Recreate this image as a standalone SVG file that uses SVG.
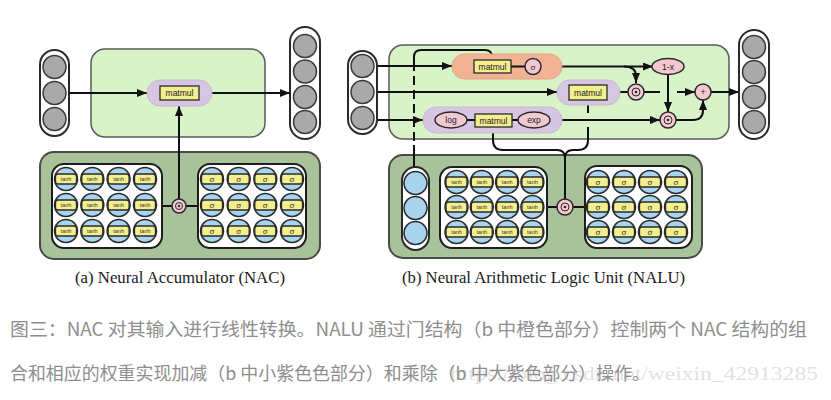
<svg xmlns="http://www.w3.org/2000/svg" xmlns:xlink="http://www.w3.org/1999/xlink" width="831" height="400" viewBox="0 0 831 400">
<style>
.pill{fill:#fff;stroke:#2a2a2a;stroke-width:2}
.gray{fill:#a9a9a9;stroke:#3a3a3a;stroke-width:1.5}
.blue{fill:#a9d4f0;stroke:#2a2a2a;stroke-width:1.5}
.lg{fill:#d9f3c9;stroke:#5a5a5a;stroke-width:1.5}
.dg{fill:#a8c29a;stroke:#4a4a4a;stroke-width:2}
.wb{fill:#fff;stroke:#1e1e1e;stroke-width:2}
.pu{fill:#d7c6e2;stroke:#c9b6d6;stroke-width:1}
.or{fill:#f1b394;stroke:#e6a283;stroke-width:1}
.ye{fill:#f3ee8e;stroke:#2a2a2a;stroke-width:1.3}
.pk{fill:#f3c8d1;stroke:#2a2a2a;stroke-width:1.5}
.t{font-family:"Liberation Sans",Arial,sans-serif;fill:#222;text-anchor:middle}
.mm{font-size:8.5px}
.nl{font-size:5.5px;fill:#333}
.sg{font-size:8px;fill:#333}
.ln{fill:none;stroke:#111;stroke-width:2}
.cap{font-family:"Liberation Serif","Times New Roman",serif;font-size:17.5px;fill:#1a1a1a;text-anchor:middle}
.cn{font-family:"Noto Sans CJK SC","Noto Sans",sans-serif;font-size:18px;fill:#8e8e8e}
.wm{font-family:"Liberation Serif",serif;font-size:18px;fill:#dadada;fill-opacity:0.8}
</style>
<defs>
<marker id="ah" viewBox="0 0 10 8" refX="10" refY="4" markerWidth="10" markerHeight="8" markerUnits="userSpaceOnUse" orient="auto"><path d="M0,0L10,4L0,8z" fill="#111"/></marker>
<g id="nt"><circle r="11.5" class="blue"/><rect x="-10.5" y="-5" width="21" height="10" rx="2.5" class="ye" stroke-width="1"/><text y="2" class="t nl">tanh</text></g>
<g id="ns"><circle r="11.5" class="blue"/><rect x="-10.5" y="-5" width="21" height="10" rx="2.5" class="ye" stroke-width="1"/><text y="2.8" class="t sg">σ</text></g>
<g id="od"><circle r="8" class="pk"/><circle r="4" fill="none" stroke="#2a2a2a" stroke-width="1"/><circle r="1.3" fill="#2a2a2a"/></g>
<g id="ods"><circle r="7" class="pk"/><circle r="3.5" fill="none" stroke="#2a2a2a" stroke-width="1"/><circle r="1.2" fill="#2a2a2a"/></g>
</defs>

<!-- ===== Panel (a) ===== -->
<g id="a-nac-box"><rect x="91" y="49" width="174" height="88" rx="14" class="lg"/></g>
<g id="a-gate-box"><rect x="40" y="152" width="280" height="107" rx="14" class="dg"/></g>

<g id="a-input">
<rect x="40" y="50" width="29" height="86" rx="14.5" class="pill"/>
<circle cx="54.5" cy="67" r="11.5" class="gray"/>
<circle cx="54.5" cy="93" r="11.5" class="gray"/>
<circle cx="54.5" cy="119" r="11.5" class="gray"/>
</g>
<g id="a-output">
<rect x="290" y="27" width="30" height="112" rx="15" class="pill"/>
<circle cx="305" cy="46" r="11.5" class="gray"/>
<circle cx="305" cy="71.5" r="11.5" class="gray"/>
<circle cx="305" cy="97" r="11.5" class="gray"/>
<circle cx="305" cy="122" r="11.5" class="gray"/>
</g>

<g id="connectors-a">
<path class="ln" d="M69,93H147" marker-end="url(#ah)"/>
<path class="ln" d="M212,93H290" marker-end="url(#ah)"/>
<path class="ln" d="M162,206H198"/>
<path class="ln" d="M179,199V106" marker-end="url(#ah)"/>
</g>

<g id="a-matmul">
<rect x="147" y="80" width="65" height="26" rx="13" class="pu"/>
<rect x="160" y="86" width="39" height="14" class="ye"/>
<text x="179.5" y="96" class="t mm">matmul</text>
</g>

<g id="a-tanh">
<rect x="52" y="164" width="110" height="84" rx="12" class="wb"/>
<use href="#nt" x="66" y="179"/><use href="#nt" x="92.3" y="179"/><use href="#nt" x="118.6" y="179"/><use href="#nt" x="145" y="179"/>
<use href="#nt" x="66" y="205"/><use href="#nt" x="92.3" y="205"/><use href="#nt" x="118.6" y="205"/><use href="#nt" x="145" y="205"/>
<use href="#nt" x="66" y="231"/><use href="#nt" x="92.3" y="231"/><use href="#nt" x="118.6" y="231"/><use href="#nt" x="145" y="231"/>
</g>
<g id="a-sigmoid">
<rect x="198" y="164" width="108" height="84" rx="12" class="wb"/>
<use href="#ns" x="212" y="179"/><use href="#ns" x="238.7" y="179"/><use href="#ns" x="265.3" y="179"/><use href="#ns" x="292" y="179"/>
<use href="#ns" x="212" y="205"/><use href="#ns" x="238.7" y="205"/><use href="#ns" x="265.3" y="205"/><use href="#ns" x="292" y="205"/>
<use href="#ns" x="212" y="231"/><use href="#ns" x="238.7" y="231"/><use href="#ns" x="265.3" y="231"/><use href="#ns" x="292" y="231"/>
</g>
<g id="a-mult"><use href="#ods" x="179" y="206"/></g>

<!-- ===== Panel (b) ===== -->
<g id="b-main-box"><rect x="389" y="45" width="340" height="94" rx="14" class="lg"/></g>
<g id="b-gate-box"><rect x="389" y="155" width="313" height="103" rx="14" class="dg"/></g>

<g id="connectors-b">
<path class="ln" d="M377,66H452" marker-end="url(#ah)"/>
<path class="ln" d="M377,92H557" marker-end="url(#ah)"/>
<path class="ln" d="M377,120H423" marker-end="url(#ah)"/>
<path class="ln" d="M414,62V57Q414,50 421,50H485Q492,50 492,57V60"/>
<path class="ln" d="M414,62V145" stroke-dasharray="9,5"/>
<path class="ln" d="M414,145V167"/>
<path class="ln" d="M541,66.5H653" marker-end="url(#ah)"/>
<path class="ln" d="M624,66.5Q636,66.5 636,76V83" marker-end="url(#ah)"/>
<path class="ln" d="M620,92H628"/>
<path class="ln" d="M644,92H660"/>
<path class="ln" d="M677,92H695" marker-end="url(#ah)"/>
<path class="ln" d="M668,74.5V112" marker-end="url(#ah)"/>
<path class="ln" d="M562,120H660" marker-end="url(#ah)"/>
<path class="ln" d="M676,120H693Q703,120 703,110V100" marker-end="url(#ah)"/>
<path class="ln" d="M711,92H739" marker-end="url(#ah)"/>
<path class="ln" d="M588,100V113"/>
<path class="ln" d="M588,127V140Q588,150 578,150H573Q565,150 565,158"/>
<path class="ln" d="M493,127V140Q493,150 503,150H557Q565,150 565,158"/>
<path class="ln" d="M565,158V199"/>
<path class="ln" d="M547,207H585"/>
</g>

<g id="b-input">
<rect x="348" y="51" width="29" height="83" rx="14.5" class="pill"/>
<circle cx="362.5" cy="66" r="11.5" class="gray"/>
<circle cx="362.5" cy="92" r="11.5" class="gray"/>
<circle cx="362.5" cy="118" r="11.5" class="gray"/>
</g>
<g id="b-output">
<rect x="739" y="30" width="30" height="109" rx="15" class="pill"/>
<circle cx="754" cy="47" r="11.5" class="gray"/>
<circle cx="754" cy="72" r="11.5" class="gray"/>
<circle cx="754" cy="97" r="11.5" class="gray"/>
<circle cx="754" cy="122" r="11.5" class="gray"/>
</g>

<g id="b-gate">
<rect x="452" y="54" width="110" height="25" rx="12.5" class="or"/>
<path class="ln" d="M511,66.5H525"/>
<rect x="474" y="60" width="37" height="13" class="ye"/>
<text x="492.5" y="69.5" class="t mm">matmul</text>
<circle cx="533" cy="66.5" r="8" class="pk"/>
<text x="533" y="69.5" class="t sg">σ</text>
</g>

<g id="b-add-nac">
<rect x="557" y="80" width="63" height="25" rx="12.5" class="pu"/>
<rect x="569" y="85" width="38" height="15" class="ye"/>
<text x="588" y="95.5" class="t mm">matmul</text>
</g>

<g id="b-mul-nac">
<rect x="423" y="107" width="139" height="26" rx="13" class="pu"/>
<path class="ln" d="M467,120H475M512,120H518"/>
<ellipse cx="451" cy="120" rx="16" ry="8" class="pk"/>
<text x="451" y="123" class="t mm">log</text>
<rect x="475" y="114" width="37" height="13" class="ye"/>
<text x="493.5" y="123.5" class="t mm">matmul</text>
<ellipse cx="534" cy="120" rx="16" ry="8" class="pk"/>
<text x="534" y="123" class="t mm">exp</text>
</g>

<g id="b-one-minus"><ellipse cx="668" cy="66.5" rx="16" ry="8" class="pk"/><text x="668" y="69.5" class="t mm">1-x</text></g>
<g id="b-mult1"><use href="#od" x="636" y="92"/></g>
<g id="b-mult2"><use href="#od" x="668" y="120"/></g>
<g id="b-plus"><circle cx="703" cy="92" r="8" class="pk"/><text x="703" y="95" class="t mm">+</text></g>

<g id="b-bias">
<rect x="402" y="167" width="27" height="83" rx="13.5" class="pill"/>
<circle cx="415.5" cy="183" r="11.5" class="blue"/>
<circle cx="415.5" cy="208" r="11.5" class="blue"/>
<circle cx="415.5" cy="233" r="11.5" class="blue"/>
</g>
<g id="b-tanh">
<rect x="440" y="167" width="107" height="81" rx="12" class="wb"/>
<use href="#nt" x="456.5" y="182"/><use href="#nt" x="481.8" y="182"/><use href="#nt" x="507.1" y="182"/><use href="#nt" x="532.4" y="182"/>
<use href="#nt" x="456.5" y="207"/><use href="#nt" x="481.8" y="207"/><use href="#nt" x="507.1" y="207"/><use href="#nt" x="532.4" y="207"/>
<use href="#nt" x="456.5" y="232"/><use href="#nt" x="481.8" y="232"/><use href="#nt" x="507.1" y="232"/><use href="#nt" x="532.4" y="232"/>
</g>
<g id="b-sigmoid">
<rect x="585" y="166" width="107" height="82" rx="12" class="wb"/>
<use href="#ns" x="598" y="182"/><use href="#ns" x="624" y="182"/><use href="#ns" x="650" y="182"/><use href="#ns" x="676" y="182"/>
<use href="#ns" x="598" y="207"/><use href="#ns" x="624" y="207"/><use href="#ns" x="650" y="207"/><use href="#ns" x="676" y="207"/>
<use href="#ns" x="598" y="232"/><use href="#ns" x="624" y="232"/><use href="#ns" x="650" y="232"/><use href="#ns" x="676" y="232"/>
</g>
<g id="b-mult3"><use href="#od" x="565" y="207"/></g>

<!-- captions -->
<text x="180" y="283" class="cap" textLength="210" lengthAdjust="spacingAndGlyphs">(a) Neural Accumulator (NAC)</text>
<text x="543.5" y="283" class="cap" textLength="283" lengthAdjust="spacingAndGlyphs">(b) Neural Arithmetic Logic Unit (NALU)</text>

<text x="450" y="380" class="wm" textLength="368" lengthAdjust="spacingAndGlyphs">https://blog.csdn.net/weixin_42913285</text>
<text x="10" y="336" class="cn" textLength="797" lengthAdjust="spacingAndGlyphs">图三：NAC 对其输入进行线性转换。NALU 通过门结构（b 中橙色部分）控制两个 NAC 结构的组</text>
<text x="10" y="380" class="cn" textLength="640" lengthAdjust="spacingAndGlyphs">合和相应的权重实现加减（b 中小紫色色部分）和乘除（b 中大紫色部分）操作。</text>
</svg>
